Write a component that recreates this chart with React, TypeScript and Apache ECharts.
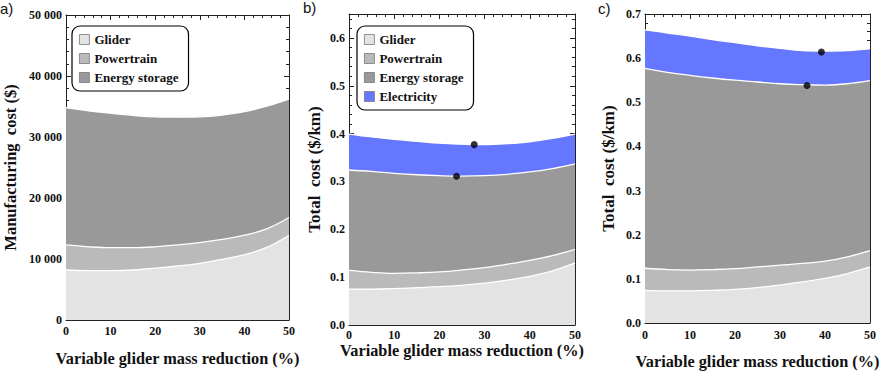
import React, { useEffect, useRef } from "react";
import * as echarts from "echarts";

const xs = [0, 5, 10, 15, 20, 25, 30, 35, 40, 45, 50];

// Panel a: manufacturing cost ($), per component
const aGlider = [8200, 8100, 8100, 8200, 8500, 8850, 9300, 9950, 10700, 11900, 13900];
const aPowertrain = [4100, 3900, 3750, 3650, 3500, 3450, 3400, 3250, 3200, 3050, 2900];
const aEnergy = [22500, 22300, 22050, 21700, 21300, 20950, 20600, 20400, 20250, 20100, 19400];

// Panel b: total cost ($/km), per component
const bGlider = [0.075, 0.075, 0.076, 0.078, 0.08, 0.083, 0.0875, 0.094, 0.1015, 0.113, 0.13];
const bPowertrain = [0.039, 0.035, 0.032, 0.031, 0.031, 0.032, 0.0325, 0.033, 0.0335, 0.032, 0.028];
const bEnergy = [0.21, 0.211, 0.209, 0.205, 0.201, 0.196, 0.192, 0.188, 0.185, 0.182, 0.179];
const bElectricity = [0.075, 0.072, 0.071, 0.07, 0.068, 0.067, 0.065, 0.064, 0.063, 0.063, 0.062];
const bDots = [[23.8, 0.311], [27.7, 0.377]];

// Panel c: total cost ($/km), per component
const cGlider = [0.074, 0.073, 0.073, 0.074, 0.076, 0.08, 0.086, 0.093, 0.101, 0.112, 0.127];
const cPowertrain = [0.05, 0.048, 0.047, 0.047, 0.047, 0.047, 0.045, 0.042, 0.039, 0.038, 0.037];
const cEnergy = [0.453, 0.447, 0.441, 0.434, 0.427, 0.419, 0.411, 0.405, 0.399, 0.392, 0.385];
const cElectricity = [0.087, 0.089, 0.089, 0.087, 0.085, 0.082, 0.08, 0.077, 0.077, 0.075, 0.072];
const cDots = [[36.0, 0.538], [39.2, 0.614]];

const seriesNames = ["Glider", "Powertrain", "Energy storage", "Electricity"];
const colors = ["#e3e3e3", "#bababa", "#999999", "#6677ff"];

const SERIF = "'Liberation Serif', 'Times New Roman', serif";
const frameColor = "#222";

// cumulative tops of each band (stack built from the component arrays)
function cumulative(layers: number[][]) {
  const out: number[][] = [];
  let acc = xs.map(() => 0);
  for (const l of layers) {
    acc = acc.map((v, i) => v + l[i]);
    out.push(acc.slice());
  }
  return out;
}

function bandSeries(name: string, tops: number[], idx: number, color: string) {
  return {
    name,
    type: "line",
    xAxisIndex: idx * 2,
    yAxisIndex: idx * 2,
    data: xs.map((x, i) => [x, tops[i]]),
    smooth: 0.4,
    showSymbol: false,
    symbol: "none",
    z: 2,
    lineStyle: { color: "#ffffff", width: 1.3 },
    itemStyle: { color },
    areaStyle: { color, opacity: 1, origin: "start" },
    emphasis: { disabled: true },
    silent: true,
  };
}

function panelSeries(layers: number[][], idx: number) {
  const tops = cumulative(layers);
  const list: any[] = [];
  // draw top band first so lower bands paint over it
  for (let k = layers.length - 1; k >= 0; k--) {
    list.push(bandSeries(seriesNames[k], tops[k], idx, colors[k]));
  }
  return list;
}

function dotSeries(data: number[][], idx: number) {
  return {
    type: "scatter",
    xAxisIndex: idx * 2,
    yAxisIndex: idx * 2,
    data,
    symbolSize: 7,
    itemStyle: { color: "#000" },
    z: 10,
    silent: true,
  };
}

function xAxes(idx: number, nameGap: number, labelMargin: number) {
  const common = {
    gridIndex: idx,
    type: "value",
    min: 0,
    max: 50,
    interval: 10,
    splitLine: { show: false },
    axisLine: { show: true, onZero: false, lineStyle: { color: frameColor, width: 1 } },
    axisTick: { show: true, inside: true, length: 5, lineStyle: { color: frameColor } },
    minorTick: { show: true, splitNumber: 5, length: 3, lineStyle: { color: frameColor } },
  };
  return [
    {
      ...common,
      position: "bottom",
      name: "Variable glider mass reduction (%)",
      nameLocation: "middle",
      nameGap,
      nameMoveOverlap: false,
      nameTextStyle: { fontFamily: SERIF, fontWeight: "bold", fontSize: 16.3, color: "#111" },
      axisLabel: { fontFamily: SERIF, fontWeight: "bold", fontSize: 12, color: "#111", margin: labelMargin },
    },
    { ...common, position: "top", axisLabel: { show: false } },
  ];
}

function yAxes(
  idx: number,
  max: number,
  interval: number,
  fmt: (v: number) => string,
  name: string,
  nameGap: number,
  nameSize: number
) {
  const common = {
    gridIndex: idx,
    type: "value",
    min: 0,
    max,
    interval,
    splitLine: { show: false },
    axisLine: { show: true, onZero: false, lineStyle: { color: frameColor, width: 1 } },
    axisTick: { show: true, inside: true, length: 5, lineStyle: { color: frameColor } },
    minorTick: { show: true, splitNumber: 5, length: 3, lineStyle: { color: frameColor } },
  };
  const aligned = Math.abs(max / interval - Math.round(max / interval)) < 1e-9;
  return [
    {
      ...common,
      position: "left",
      name,
      nameLocation: "middle",
      nameGap,
      nameMoveOverlap: false,
      nameTextStyle: { fontFamily: SERIF, fontWeight: "bold", fontSize: nameSize, color: "#111" },
      axisLabel: {
        fontFamily: SERIF,
        fontWeight: "bold",
        fontSize: 12,
        color: "#111",
        margin: 4,
        showMaxLabel: aligned,
        formatter: fmt,
      },
    },
    { ...common, position: "right", axisLabel: { show: false } },
  ];
}

const fmtA = (v: number) => (v === 0 ? "0" : `${Math.round(v / 1000)} 000`);
const fmt1 = (v: number) => v.toFixed(1);

function legendFor(left: number, top: number, n: number) {
  return {
    orient: "vertical",
    left,
    top,
    data: seriesNames.slice(0, n),
    icon: "rect",
    itemWidth: 10,
    itemHeight: 10,
    itemGap: 6,
    padding: [7, 10, 7, 7],
    borderColor: "#000",
    borderWidth: 1.2,
    borderRadius: 8,
    backgroundColor: "#fff",
    selectedMode: false,
    itemStyle: { borderColor: "#777", borderWidth: 0.8 },
    textStyle: { fontFamily: SERIF, fontWeight: "bold", fontSize: 13, color: "#111" },
  };
}

export default function App() {
  const ref = useRef<HTMLDivElement>(null);
  useEffect(() => {
    if (!ref.current) return;
    const chart = echarts.init(ref.current, undefined, { renderer: "svg" });
    const gridBase = { containLabel: false, outerBoundsMode: "none" };
    const option = {
      animation: false,
      backgroundColor: "#fff",
      grid: [
        { ...gridBase, left: 66, top: 15, width: 223, height: 305 },
        { ...gridBase, left: 349, top: 14, width: 226, height: 311 },
        { ...gridBase, left: 645, top: 14, width: 225, height: 309 },
      ],
      xAxis: [...xAxes(0, 30, 5), ...xAxes(1, 17, 4), ...xAxes(2, 30, 6)],
      yAxis: [
        ...yAxes(0, 50000, 10000, fmtA, "Manufacturing  cost ($)", 47, 16.5),
        ...yAxes(1, 0.65, 0.1, fmt1, "Total  cost ($/km)", 26, 17),
        ...yAxes(2, 0.7, 0.1, fmt1, "Total  cost ($/km)", 28, 17),
      ],
      legend: [legendFor(72, 26, 3), legendFor(357, 26, 4)],
      series: [
        ...panelSeries([aGlider, aPowertrain, aEnergy], 0),
        ...panelSeries([bGlider, bPowertrain, bEnergy, bElectricity], 1),
        dotSeries(bDots, 1),
        ...panelSeries([cGlider, cPowertrain, cEnergy, cElectricity], 2),
        dotSeries(cDots, 2),
      ],
      graphic: [
        { type: "text", left: 0, top: 1, style: { text: "a)", font: "15px 'Liberation Sans', Arial, sans-serif", fill: "#111" } },
        { type: "text", left: 303, top: 0, style: { text: "b)", font: "15px 'Liberation Sans', Arial, sans-serif", fill: "#111" } },
        { type: "text", left: 598, top: 1, style: { text: "c)", font: "15px 'Liberation Sans', Arial, sans-serif", fill: "#111" } },
      ],
    };
    chart.setOption(option as any);
    return () => chart.dispose();
  }, []);
  return (
    <div
      ref={ref}
      style={{ position: "fixed", left: 0, top: 0, width: 882, height: 371, background: "#fff" }}
    />
  );
}
